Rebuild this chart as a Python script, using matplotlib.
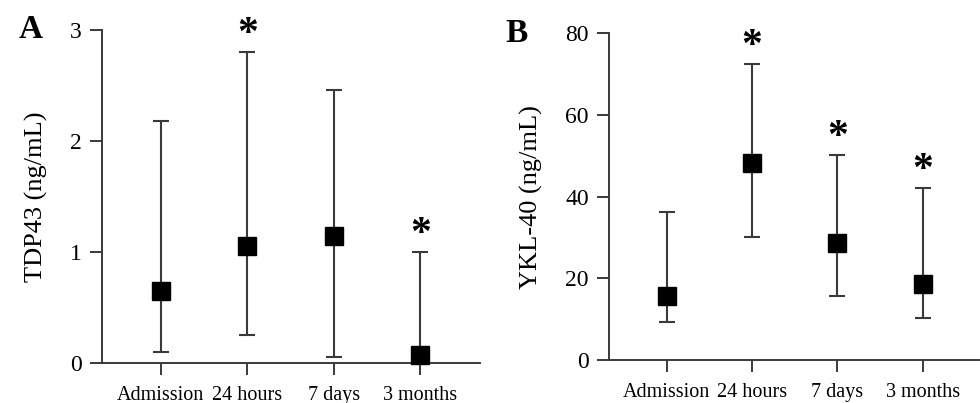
"""
Two-panel median / range plot: TDP43 and YKL-40 over time after admission.
"""

import matplotlib
matplotlib.use("Agg")
import matplotlib.pyplot as plt
import numpy as np

plt.rcParams["font.family"] = ["Liberation Serif", "DejaVu Serif"]

TIMEPOINTS = ["Admission", "24 hours", "7 days", "3 months"]

# Panel A: TDP43 (ng/mL)
tdp_median = [0.65, 1.05, 1.14, 0.07]
tdp_low = [0.10, 0.25, 0.05, 0.0]
tdp_high = [2.18, 2.80, 2.46, 1.00]
tdp_star = [False, True, False, True]

# Panel B: YKL-40 (ng/mL)
ykl_median = [15.7, 48.3, 28.6, 18.6]
ykl_low = [9.4, 30.0, 15.7, 10.2]
ykl_high = [36.2, 72.5, 50.2, 42.2]
ykl_star = [False, True, True, True]

LINE_COL = "#3a3a3a"


def draw_panel(ax, median, low, high, star, ylim, yticks, ylabel, xlim):
    x = np.arange(len(TIMEPOINTS))
    median = np.array(median)
    yerr = [median - np.array(low), np.array(high) - median]
    ax.errorbar(x, median, yerr=yerr, fmt="s", color="black", ms=13,
                ecolor=LINE_COL, elinewidth=1.5, capsize=6, capthick=1.5,
                zorder=3, clip_on=False)
    for xi, hi, s in zip(x, high, star):
        if s:
            ax.text(xi, hi + 0.052 * ylim[1], "*", ha="center", va="center",
                    fontsize=30, fontweight="bold", clip_on=False)

    ax.set_xlim(*xlim)
    ax.set_ylim(*ylim)
    ax.set_yticks(yticks)
    ax.set_xticks(x)
    ax.set_xticklabels(TIMEPOINTS, fontsize=14.5)
    ax.tick_params(axis="y", labelsize=17, pad=6)
    ax.tick_params(axis="x", pad=8)
    ax.tick_params(direction="out", length=8.5, width=1.4, color=LINE_COL)
    ax.set_ylabel(ylabel, fontsize=19, labelpad=16)
    for side in ("top", "right"):
        ax.spines[side].set_visible(False)
    for side in ("left", "bottom"):
        ax.spines[side].set_color(LINE_COL)
        ax.spines[side].set_linewidth(1.4)


fig = plt.figure(figsize=(9.8, 4.03), dpi=100)
ax_a = fig.add_axes([0.1041, 0.0993, 0.3857, 0.8263])
ax_b = fig.add_axes([0.6214, 0.1067, 0.3776, 0.8107])

draw_panel(ax_a, tdp_median, tdp_low, tdp_high, tdp_star,
           (0, 3), [0, 1, 2, 3], "TDP43 (ng/mL)", (-0.68, 3.69))
draw_panel(ax_b, ykl_median, ykl_low, ykl_high, ykl_star,
           (0, 80), [0, 20, 40, 60, 80], "YKL-40 (ng/mL)", (-0.675, 3.66))

fig.text(0.031, 0.928, "A", fontsize=24, fontweight="bold", va="center", ha="center")
fig.text(0.527, 0.918, "B", fontsize=24, fontweight="bold", va="center", ha="center")

fig.savefig("out.png", dpi=100)
